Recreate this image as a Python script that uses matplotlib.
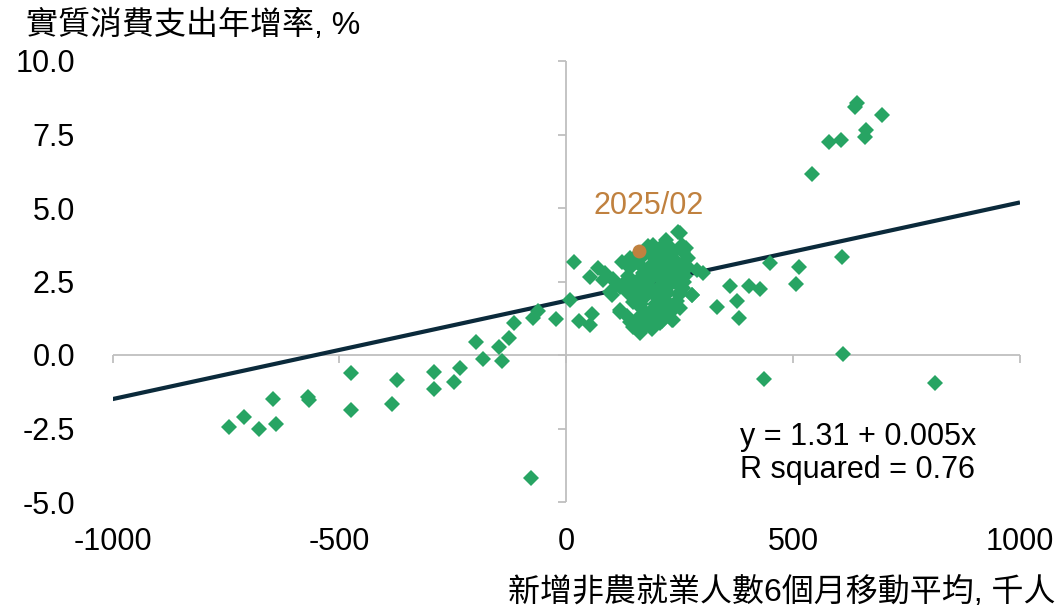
import matplotlib
matplotlib.use("Agg")
import matplotlib.pyplot as plt
from matplotlib.lines import TICKDOWN, TICKLEFT

plt.rcParams['font.family'] = ['Liberation Sans', 'Noto Sans CJK TC', 'DejaVu Sans']

# ---- data ----
jobs_x = [-744, -711, -678, -647, -639, -570, -568, -474, -474, -374, -383, -292, -291,
          -248, -235, -199, -184, -149, -142, -127, -116, -74, -63, -23, -78,
          18, 9, 27, 53, 57, 53, 71, 82, 108, 101, 123, 119, 134, 148, 163,
          247, 225, 258, 269, 181, 86, 104, 97, 119, 148, 119, 141, 163, 200, 233,
          229, 251, 277, 244, 185, 170, 200, 207, 163, 222, 185, 148, 236,
          190, 215, 175, 195, 210, 160, 225, 240, 255, 200, 180, 215, 165, 205,
          190, 230, 150, 245, 260, 170, 210, 195, 155, 135, 140, 265, 220, 175,
          190, 250, 260,
          145, 158, 172, 186, 199, 213, 227, 241, 254, 268,
          150, 164, 178, 192, 206, 220, 234, 248, 262,
          140, 154, 168, 182, 196, 210, 224, 238,
          160, 174, 188, 202, 216, 230, 244, 170, 184, 198, 212, 226,
          128, 136, 178, 192, 206, 220,
          251, 288, 302, 277, 258, 236, 233, 207, 332, 361, 376, 380,
          640, 637, 695, 660, 659, 578, 605, 541, 607, 448, 513, 507, 402, 427,
          609, 435, 813]
spend_y = [-2.44, -2.12, -2.52, -1.48, -2.33, -1.42, -1.53, -0.60, -1.88, -0.86, -1.65, -0.59, -1.14,
           -0.91, -0.45, 0.44, -0.15, 0.28, -0.19, 0.59, 1.08, 1.25, 1.51, 1.23, -4.20,
           3.15, 1.88, 1.17, 2.65, 1.39, 1.02, 2.96, 2.56, 2.50, 2.05, 3.18, 1.53, 1.31, 0.96, 0.74,
           4.20, 3.75, 3.50, 3.30, 3.70, 2.80, 2.60, 2.15, 2.30, 1.80, 1.45, 1.12, 0.85, 1.10, 1.20,
           1.70, 2.15, 2.05, 2.70, 2.70, 2.15, 1.60, 3.20, 3.05, 2.40, 1.45, 2.50, 3.30,
           3.40, 2.90, 2.40, 2.00, 2.55, 1.90, 2.10, 3.00, 3.75, 3.55, 1.20, 1.35, 1.60, 2.30,
           2.95, 3.55, 2.20, 2.40, 2.90, 2.80, 1.90, 1.75, 3.40, 2.70, 3.30, 3.65, 3.10, 1.00,
           0.90, 1.60, 2.50,
           2.35, 2.55, 2.25, 2.60, 2.75, 2.45, 2.85, 2.60, 3.10, 3.00,
           1.95, 1.75, 2.05, 2.20, 2.05, 2.60, 2.45, 2.05, 2.70,
           2.95, 3.15, 3.35, 3.00, 3.25, 3.45, 3.20, 3.50,
           1.30, 1.45, 1.35, 1.45, 1.65, 1.45, 1.85, 1.10, 1.05, 1.25, 1.15, 1.75,
           2.45, 2.10, 3.60, 3.75, 3.65, 3.90,
           4.15, 2.90, 2.78, 2.05, 2.27, 1.19, 1.67, 1.08, 1.63, 2.33, 1.82, 1.25,
           8.58, 8.44, 8.18, 7.67, 7.41, 7.24, 7.30, 6.16, 3.35, 3.12, 2.99, 2.42, 2.36, 2.24,
           0.02, -0.80, -0.94]

latest_x = [160]
latest_y = [3.55]
latest_label = "2025/02"

trend_x = [-1000, 1000]
trend_y = [-1.50, 5.19]

x_ticks = [-1000, -500, 0, 500, 1000]
x_tick_labels = ["-1000", "-500", "0", "500", "1000"]
y_ticks = [-5.0, -2.5, 0.0, 2.5, 5.0, 7.5, 10.0]
y_tick_labels = ["-5.0", "-2.5", "0.0", "2.5", "5.0", "7.5", "10.0"]

y_title = "實質消費支出年增率, %"
x_title = "新增非農就業人數6個月移動平均, 千人"
eq_text = "y = 1.31 + 0.005x"
r2_text = "R squared = 0.76"

# ---- styles ----
GREEN = '#27A463'
ORANGE = '#C0813F'
NAVY = '#0B2A3B'
GRAY = '#BFBFBF'
FS = 22
FS_CJK = 23

W, H = 1059, 610
fig = plt.figure(figsize=(W / 100, H / 100), dpi=100)
ax = fig.add_axes([112.5 / W, 1 - 502 / H, (1020 - 112.5) / W, (502 - 61) / H])
ax.set_xlim(-1000, 1000)
ax.set_ylim(-5, 10)
for s in ax.spines.values():
    s.set_visible(False)

# zero axes with tick marks
ax.axhline(0, color=GRAY, lw=1.3, zorder=1)
ax.axvline(0, color=GRAY, lw=1.3, zorder=1)
ax.plot(x_ticks, [0] * len(x_ticks), ls='none', marker=TICKDOWN, ms=6, mew=1.3,
        color=GRAY, zorder=1, clip_on=False)
ax.plot([0] * len(y_ticks), y_ticks, ls='none', marker=TICKLEFT, ms=6, mew=1.3,
        color=GRAY, zorder=1, clip_on=False)

ax.set_xticks(x_ticks, x_tick_labels)
ax.set_yticks(y_ticks, y_tick_labels)
ax.tick_params(axis='both', length=0, labelsize=FS, colors='black')
ax.tick_params(axis='x', pad=18)
ax.tick_params(axis='y', pad=27)

# trend line
ax.plot(trend_x, trend_y, color=NAVY, lw=3.0, zorder=2, solid_capstyle='butt')

# scatter
ax.plot(jobs_x, spend_y, ls='none', marker='D', ms=7.7, mew=0, color=GREEN, zorder=3)
ax.plot(latest_x, latest_y, ls='none', marker='o', ms=10, mew=0, color=ORANGE, zorder=4)
ax.annotate(latest_label, xy=(latest_x[0], latest_y[0]), xytext=(7, 32),
            textcoords='offset points', ha='center', va='center',
            fontsize=FS, color=ORANGE)

# texts
fig.text(26 / W, 1 - 25 / H, y_title, ha='left', va='center', fontsize=FS_CJK)
fig.text(1055 / W, 1 - 592 / H, x_title, ha='right', va='center', fontsize=FS_CJK)
fig.text(740 / W, 1 - 437 / H, eq_text, ha='left', va='center', fontsize=FS)
fig.text(740 / W, 1 - 470 / H, r2_text, ha='left', va='center', fontsize=FS)

fig.savefig('out.png', dpi=100, facecolor='white')
